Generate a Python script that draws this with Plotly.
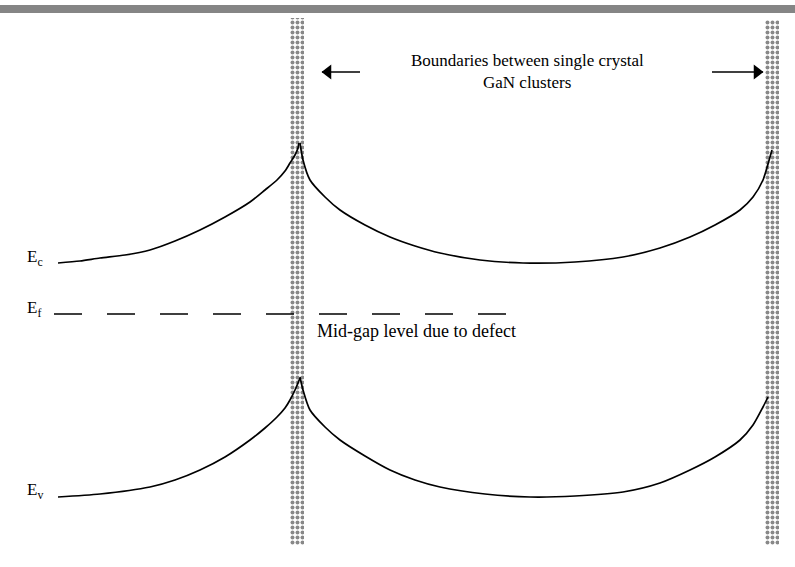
import plotly.graph_objects as go

# Values (diagram units: x to the right, y downward, ~pixels)
ec_left_x = [58, 80, 100, 125, 150, 175, 200, 225, 250, 265, 277, 285, 290, 295, 298, 299]
ec_left_y = [263, 261, 258, 255, 250, 241, 230, 217, 202, 190, 180, 171, 163, 155, 148, 143]
ec_right_x = [300, 303, 310, 325, 340, 365, 390, 415, 440, 480, 523, 575, 623, 660, 690, 715, 740, 753, 763, 770, 772]
ec_right_y = [143, 160, 180, 197, 210, 225, 237, 246, 253, 260, 263, 262, 257, 248, 237, 225, 210, 197, 180, 157, 150]

ev_left_x = [58, 100, 150, 175, 200, 225, 250, 265, 277, 285, 290, 295, 298, 300]
ev_left_y = [497, 494, 487, 480, 470, 457, 440, 428, 417, 408, 400, 390, 383, 378]
ev_right_x = [300, 303, 310, 325, 340, 365, 390, 415, 440, 485, 530, 575, 623, 660, 690, 715, 740, 753, 763, 768]
ev_right_y = [377, 390, 410, 427, 440, 456, 470, 480, 487, 494, 497, 496, 492, 483, 470, 457, 440, 425, 407, 397]

ef_x = [54, 512]
ef_y = [314, 314]

boundary_x = [297, 772]
boundary_top = [18, 20]
boundary_bottom = [545, 545]
boundary_width = 14

labels = ["E<sub>c</sub>", "E<sub>f</sub>", "E<sub>v</sub>"]
label_x = [25, 25, 25]
label_y = [258, 309, 491]

title_lines = ["Boundaries between single crystal", "GaN clusters"]
title_x = 527
title_y = [60, 82]
midgap_text = "Mid-gap level due to defect"

# arrows: (tail x, head x, y)
arrows = [(360, 322, 72), (712, 763, 72)]

W, H = 795, 567
font = "Liberation Serif, Times New Roman, serif"

fig = go.Figure()

# stippled boundary columns
fig.add_trace(go.Bar(
    x=boundary_x,
    y=[b - t for t, b in zip(boundary_top, boundary_bottom)],
    base=boundary_top,
    width=[boundary_width] * len(boundary_x),
    marker=dict(color="white", line=dict(width=0),
                pattern=dict(shape=".", fgcolor="#111111", bgcolor="white",
                             size=5, solidity=0.5)),
    showlegend=False, hoverinfo="skip",
))

line_style = dict(color="black", width=1.7, shape="spline", smoothing=0.7)
for xs, ys in [(ec_left_x, ec_left_y), (ec_right_x, ec_right_y),
               (ev_left_x, ev_left_y), (ev_right_x, ev_right_y)]:
    fig.add_trace(go.Scatter(x=xs, y=ys, mode="lines", line=line_style,
                             showlegend=False, hoverinfo="skip"))

fig.add_trace(go.Scatter(x=ef_x, y=ef_y, mode="lines",
                         line=dict(color="black", width=1.5, dash="28px,25px"),
                         showlegend=False, hoverinfo="skip"))

# arrows as line + filled triangle head
for x0, x1, y in arrows:
    sym = "triangle-left" if x1 < x0 else "triangle-right"
    fig.add_trace(go.Scatter(x=[x0, x1], y=[y, y], mode="lines",
                             line=dict(color="black", width=1.5),
                             showlegend=False, hoverinfo="skip"))
    fig.add_trace(go.Scatter(x=[x1 + (6 if x1 < x0 else -6)], y=[y], mode="markers",
                             marker=dict(symbol=sym, size=13, color="black"),
                             showlegend=False, hoverinfo="skip"))

# top gray band
fig.add_shape(type="rect", x0=0, x1=W, y0=5, y1=13,
              fillcolor="#858585", line=dict(width=0), layer="below")

annos = []
for t, lx, ly in zip(labels, label_x, label_y):
    annos.append(dict(x=lx, y=ly, text=t, showarrow=False, xanchor="left",
                      yanchor="middle", font=dict(family=font, size=17, color="black")))
for t, ty in zip(title_lines, title_y):
    annos.append(dict(x=title_x, y=ty, text=t, showarrow=False, xanchor="center",
                      yanchor="middle", font=dict(family=font, size=17, color="black")))
annos.append(dict(x=315, y=331, text=midgap_text, showarrow=False, xanchor="left",
                  yanchor="middle", font=dict(family=font, size=18, color="black")))

fig.update_layout(
    width=W, height=H,
    margin=dict(l=0, r=0, t=0, b=0),
    paper_bgcolor="white", plot_bgcolor="white",
    barmode="overlay",
    xaxis=dict(range=[0, W], visible=False, fixedrange=True),
    yaxis=dict(range=[H, 0], visible=False, fixedrange=True),
    annotations=annos,
)

fig.write_html("out.html", config={"displayModeBar": False},
               post_script="document.body.style.margin='0px';document.body.style.overflow='hidden';")
